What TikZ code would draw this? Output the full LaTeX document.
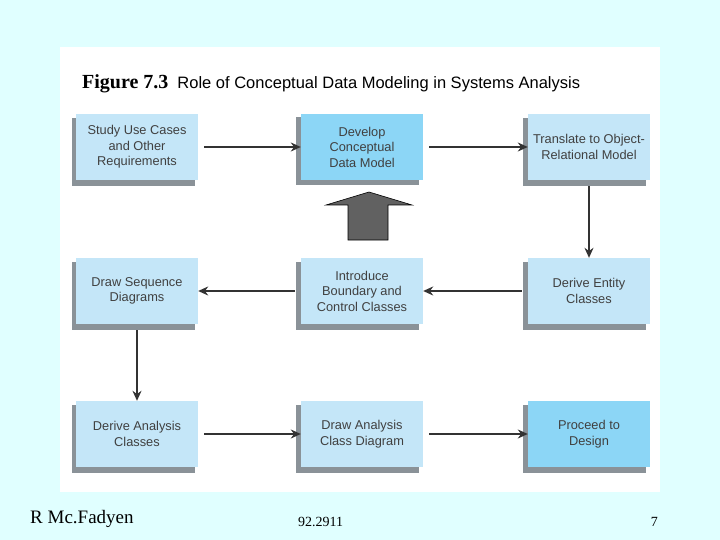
\documentclass[tikz,border=0pt]{standalone}
\usepackage{fontspec}
\setmainfont{Liberation Serif}
\newfontfamily\sans{Liberation Sans}
\usetikzlibrary{arrows.meta}
\definecolor{bg}{HTML}{E0FFFF}
\definecolor{lite}{HTML}{C4E6F8}
\definecolor{dark}{HTML}{8CD6F6}
\definecolor{shad}{HTML}{8A9298}
\begin{document}
\begin{tikzpicture}[x=1pt,y=-1pt,
  box/.style={draw=none,fill=lite,minimum width=122pt,minimum height=66pt,align=center,
    font=\sans\fontsize{12.8}{15.5}\selectfont,text=black!75,inner sep=2pt},
  hot/.style={box,fill=dark},
  arr/.style={draw=black!80,line width=1.3pt,shorten <=6pt,-{Stealth[length=10pt,width=9pt]}}]
\useasboundingbox (0,0) rectangle (720,540);
\fill[bg] (0,0) rectangle (720,540);
\fill[white] (60,47) rectangle (660,492);
\node[anchor=west,inner sep=0] (title) at (82,84) {\textbf{\fontsize{20}{22}\selectfont Figure 7.3}\hspace{9pt}{\sans\fontsize{16.5}{18}\selectfont Role of Conceptual Data Modeling in Systems Analysis}};
\foreach \cx/\cy in {137/148,361/147,588/148,137/292,361/292,588/292,137/435,361/435,588/435}{
  \fill[shad] (\cx-65,\cy-30) rectangle (\cx+58,\cy+38);}
\node[box] (a) at (137,147) {Study Use Cases\\and Other\\Requirements};
\node[hot] (b) at (362,147) {Develop\\Conceptual\\Data Model};
\node[box] (c) at (589,147) {Translate to Object-\\Relational Model};
\node[box] (f) at (137,291) {Draw Sequence\\Diagrams};
\node[box] (e) at (362,291) {Introduce\\Boundary and\\Control Classes};
\node[box] (d) at (589,291) {Derive Entity\\Classes};
\node[box] (g) at (137,434) {Derive Analysis\\Classes};
\node[box] (h) at (362,434) {Draw Analysis\\Class Diagram};
\node[hot] (i) at (589,434) {Proceed to\\Design};
\draw[arr] (a) -- (b);
\draw[arr] (b) -- (c);
\draw[arr] (c) -- (d);
\draw[arr] (d) -- (e);
\draw[arr] (e) -- (f);
\draw[arr] (f) -- (g);
\draw[arr] (g) -- (h);
\draw[arr] (h) -- (i);
\filldraw[fill=black!62,draw=black,line width=0.6pt] (348,240) -- (348,205) -- (326,205) -- (369,192) -- (412,205) -- (388,205) -- (388,240) -- cycle;
\node[anchor=west,inner sep=0] (f1) at (30,519) {\fontsize{19}{21}\selectfont R Mc.Fadyen};
\node[anchor=west,inner sep=0] (f2) at (298,522) {\fontsize{14}{16}\selectfont 92.2911};
\node[anchor=east,inner sep=0] (f3) at (658,522) {\fontsize{14}{16}\selectfont 7};
\end{tikzpicture}
\end{document}
